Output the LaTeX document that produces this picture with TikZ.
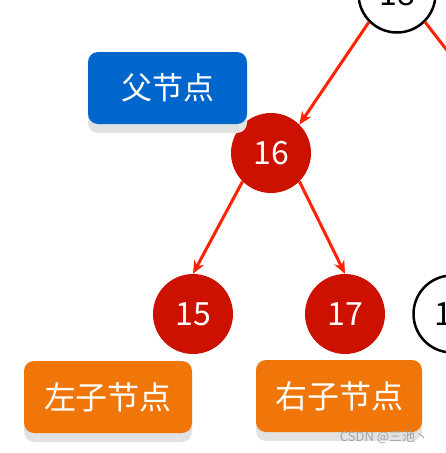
\documentclass[tikz,border=0pt]{standalone}
\usepackage{fontspec}
\newfontfamily\cjk{Noto Sans CJK SC}
\usetikzlibrary{arrows.meta,shadows}
\definecolor{nodered}{RGB}{204,17,0}
\definecolor{edgered}{RGB}{255,34,0}
\definecolor{tagblue}{RGB}{0,102,204}
\definecolor{tagorange}{RGB}{240,118,10}
\definecolor{shadowgray}{RGB}{226,226,226}
\begin{document}
\begin{tikzpicture}[x=1pt,y=-1pt,
	rb/.style={circle,fill=nodered,text=white,minimum size=80pt,inner sep=0pt,
		font=\cjk\fontsize{32}{32}\selectfont},
	wb/.style={circle,draw=black,line width=2.5pt,fill=white,minimum size=77pt,inner sep=0pt,
		font=\cjk\fontsize{32}{32}\selectfont},
	tag/.style={rounded corners=10pt,text=white,inner sep=0pt,minimum height=72pt,
		font=\cjk\fontsize{32}{32}\selectfont,
		drop shadow={shadow xshift=0pt,shadow yshift=-9pt,fill=shadowgray,opacity=1}},
	edge/.style={-{Stealth[length=13pt,width=11pt]},line width=3pt,draw=edgered}]
\useasboundingbox (0,0) rectangle (446,453);
\clip (0,0) rectangle (446,453);

% cut-off nodes at the border
\node[wb] (n18) at (397,-6) {18};
\node[wb] (n19) at (452,314) {19};
\coordinate (r18) at (470,80);

\foreach \v/\x/\y in {16/271/153, 15/193/314, 17/345/314}
	\node[rb] (n\v) at (\x,\y) {\v};

\draw[edge] (n18.225) -- (n16.45);
\draw[edge] (n18.315) -- (r18);
\draw[edge] (n16.225) -- (n15.north);
\draw[edge] (n16.315) -- (n17.north);

% labels
\node[tag,fill=tagblue,minimum width=159pt,font=\cjk\fontsize{31}{31}\selectfont] (parent) at (167.5,88) {父节点};
\node[tag,fill=tagorange,minimum width=168pt] (left) at (108,397) {左子节点};
\node[tag,fill=tagorange,minimum width=166pt] (right) at (339,396) {右子节点};

\node[text=gray!70,font=\cjk\fontsize{13}{13}\selectfont] (wm) at (384,437) {CSDN @三池丶};
\end{tikzpicture}
\end{document}
